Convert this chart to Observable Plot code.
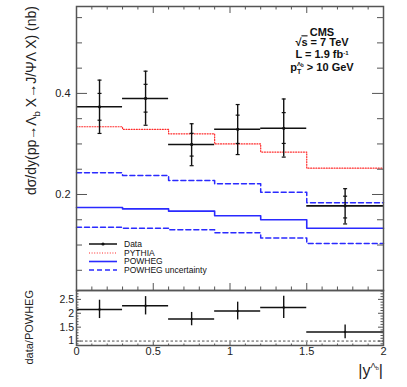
<!DOCTYPE html>
<html><head><meta charset="utf-8">
<script src="https://cdn.jsdelivr.net/npm/d3@7"></script>
<script src="https://cdn.jsdelivr.net/npm/@observablehq/plot@0.6"></script>
<style>
body{margin:0;background:#fff;}
#chart{position:relative;width:407px;height:387px;font-family:"Liberation Sans",Arial,sans-serif;}
#chart svg{position:absolute;left:0;top:0;}
</style></head><body><div id="chart"></div>
<script>
// ---- data ----
const binEdges   = [0, 0.3, 0.6, 0.9, 1.2, 1.5, 2.0];
const binCenters = [0.15, 0.45, 0.75, 1.05, 1.35, 1.75];
const dataValue  = [0.3735, 0.390, 0.299, 0.329, 0.331, 0.1775];
const dataTotHi  = [0.4263, 0.444, 0.340, 0.378, 0.389, 0.2115];
const dataTotLo  = [0.3208, 0.337, 0.257, 0.279, 0.274, 0.1417];
const dataStatHi = [0.400, 0.418, 0.321, 0.357, 0.362, 0.1966];
const dataStatLo = [0.347, 0.363, 0.276, 0.301, 0.301, 0.1536];
const pythia     = [0.334, 0.329, 0.320, 0.300, 0.284, 0.252];
const powheg     = [0.1742, 0.1715, 0.167, 0.158, 0.150, 0.1333];
const powhegUp   = [0.2428, 0.2376, 0.2277, 0.221, 0.2046, 0.1834];
const powhegDown = [0.1353, 0.1333, 0.130, 0.1243, 0.1141, 0.103];
const ratio      = [2.14, 2.27, 1.79, 2.08, 2.21, 1.33];
const ratioErr   = [0.33, 0.33, 0.24, 0.32, 0.40, 0.25];

const xTickLabels = [0, 0.5, 1, 1.5, 2];
const xMajor = [0.5, 1, 1.5];
const xMinor = [0.1,0.2,0.3,0.4,0.6,0.7,0.8,0.9,1.1,1.2,1.3,1.4,1.6,1.7,1.8,1.9];
const yTopLabels = [0.2, 0.4];
const yTopMinor = [0.05,0.1,0.15,0.25,0.3,0.35,0.45,0.5,0.55];
const yBotLabels = [1, 1.5, 2, 2.5];
const yBotMinor = [0.9,1.1,1.2,1.3,1.4,1.6,1.7,1.8,1.9,2.1,2.2,2.3,2.4,2.6,2.7,2.8];

const legendItems = ["Data", "PYTHIA", "POWHEG", "POWHEG uncertainty"];

// ---- derived tables ----
const rows = binCenters.map((c, i) => ({
  x: c, x1: binEdges[i], x2: binEdges[i + 1], y: dataValue[i],
  th: dataTotHi[i], tl: dataTotLo[i], sh: dataStatHi[i], sl: dataStatLo[i],
  r: ratio[i], rh: ratio[i] + ratioErr[i], rl: ratio[i] - ratioErr[i]
}));
const caps = rows.flatMap(d => [d.th, d.tl, d.sh, d.sl].map(v => ({x: d.x, y: v})));
const steps = vals => binEdges.map((e, i) => ({x: e, y: vals[Math.min(i, vals.length - 1)]}));

const capSymbol = {draw(ctx, size) { const w = Math.sqrt(size / Math.PI); ctx.moveTo(-w, 0); ctx.lineTo(w, 0); }};

const W = 407, H = 387, ML = 76, MR = 24;
const IW = W - ML - MR;
const TOP_MT = 6, TOP_MB = 97, TOP_IH = H - TOP_MT - TOP_MB;
const BOT_MT = 290, BOT_MB = 42, BOT_IH = H - BOT_MT - BOT_MB;
const frameC = "#555", ink = "#111";
const font = '"Liberation Sans", Arial, sans-serif';

const blue = "#2a2aff", red = "#ff2a2a";
const redDash = "1,1.6";

const topPlot = Plot.plot({
  width: W, height: H,
  marginLeft: ML, marginRight: MR, marginTop: TOP_MT, marginBottom: TOP_MB,
  x: {domain: [0, 2], axis: null},
  y: {domain: [0.01, 0.572], axis: null},
  style: {fontFamily: font, background: "transparent"},
  marks: [
    Plot.line(steps(pythia), {x: "x", y: "y", curve: "step-after", stroke: red, strokeWidth: 1.2, strokeDasharray: redDash}),
    Plot.line(steps(powhegUp), {x: "x", y: "y", curve: "step-after", stroke: blue, strokeWidth: 1.5, strokeDasharray: "5,3"}),
    Plot.line(steps(powhegDown), {x: "x", y: "y", curve: "step-after", stroke: blue, strokeWidth: 1.5, strokeDasharray: "5,3"}),
    Plot.line(steps(powheg), {x: "x", y: "y", curve: "step-after", stroke: blue, strokeWidth: 1.6}),
    Plot.ruleY(rows, {y: "y", x1: "x1", x2: "x2", stroke: ink, strokeWidth: 1.6}),
    Plot.ruleX(rows, {x: "x", y1: "tl", y2: "th", stroke: ink, strokeWidth: 1.4}),
    Plot.dot(caps, {x: "x", y: "y", r: 2, symbol: capSymbol, stroke: ink, strokeWidth: 1.2}),
    Plot.dot(rows, {x: "x", y: "y", r: 1.6, fill: ink}),
    // ticks
    Plot.tickY(yTopMinor, {y: d => d, insetRight: IW - 6, stroke: frameC}),
    Plot.tickY(yTopLabels, {y: d => d, insetRight: IW - 11, stroke: frameC}),
    Plot.tickY(yTopMinor, {y: d => d, insetLeft: IW - 6, stroke: frameC}),
    Plot.tickY(yTopLabels, {y: d => d, insetLeft: IW - 11, stroke: frameC}),
    Plot.tickX(xMinor, {x: d => d, insetBottom: TOP_IH - 3.5, stroke: frameC}),
    Plot.tickX(xMajor, {x: d => d, insetBottom: TOP_IH - 7, stroke: frameC}),
    Plot.tickX(xMinor, {x: d => d, insetTop: TOP_IH - 3.5, stroke: frameC}),
    Plot.tickX(xMajor, {x: d => d, insetTop: TOP_IH - 7, stroke: frameC}),
    Plot.text(yTopLabels, {y: d => d, text: d => d.toFixed(1), frameAnchor: "left", textAnchor: "end", dx: -6, fontSize: 11, fill: "#222"}),
    Plot.frame({stroke: frameC, strokeWidth: 1.5})
  ]
});

const bottomPlot = Plot.plot({
  width: W, height: H,
  marginLeft: ML, marginRight: MR, marginTop: BOT_MT, marginBottom: BOT_MB,
  x: {domain: [0, 2], axis: null},
  y: {domain: [0.84, 2.82], axis: null},
  style: {fontFamily: font, background: "transparent"},
  marks: [
    Plot.ruleY([1], {stroke: "#222", strokeWidth: 0.8, strokeDasharray: "2.5,2"}),
    Plot.ruleY(rows, {y: "r", x1: "x1", x2: "x2", stroke: ink, strokeWidth: 1.5}),
    Plot.ruleX(rows, {x: "x", y1: "rl", y2: "rh", stroke: ink, strokeWidth: 1.4}),
    Plot.dot(rows, {x: "x", y: "r", r: 1.2, fill: ink}),
    Plot.tickY(yBotMinor, {y: d => d, insetRight: IW - 2.5, stroke: frameC}),
    Plot.tickY(yBotLabels, {y: d => d, insetRight: IW - 5, stroke: frameC}),
    Plot.tickY(yBotMinor, {y: d => d, insetLeft: IW - 2.5, stroke: frameC}),
    Plot.tickY(yBotLabels, {y: d => d, insetLeft: IW - 5, stroke: frameC}),
    Plot.tickX(xMinor, {x: d => d, insetTop: BOT_IH - 1.5, stroke: frameC}),
    Plot.tickX(xMajor, {x: d => d, insetTop: BOT_IH - 3, stroke: frameC}),
    Plot.text(yBotLabels, {y: d => d, text: d => String(d), frameAnchor: "left", textAnchor: "end", dx: -2.5, fontSize: 10.5, fill: "#222"}),
    Plot.text(xTickLabels, {x: d => d, text: d => String(d), frameAnchor: "bottom", lineAnchor: "top", dy: 2, fontSize: 11, fill: "#222"}),
    Plot.frame({stroke: frameC, strokeWidth: 1.5})
  ]
});

const chart = document.getElementById("chart");
chart.appendChild(topPlot);
chart.appendChild(bottomPlot);

// ---- titles, annotations and legend ----
const s = d3.select(topPlot);
const t1 = s.append("text").attr("transform", "translate(36,6) rotate(-90)")
  .attr("text-anchor", "end").attr("font-size", 14).attr("fill", "#222").attr("font-family", font);
t1.append("tspan").text("dσ/dy(pp→Λ");
t1.append("tspan").attr("dy", 4).attr("font-size", 9.5).text("b");
t1.append("tspan").attr("dy", -4).text(" X→J/ΨΛ X) (nb)");

const sb = d3.select(bottomPlot);
sb.append("text").attr("transform", "translate(33,290) rotate(-90)")
  .attr("text-anchor", "end").attr("font-size", 11).attr("fill", "#222").attr("font-family", font)
  .text("data/POWHEG");

const xt = sb.append("text").attr("x", 383).attr("y", 376).attr("text-anchor", "end")
  .attr("font-size", 16).attr("fill", "#222").attr("font-family", font);
xt.append("tspan").text("|y");
xt.append("tspan").attr("dy", -8).attr("font-size", 8).text("Λ");
xt.append("tspan").attr("dy", 2).attr("font-size", 5.5).text("b");
xt.append("tspan").attr("dy", 6).text("|");

// CMS block
const cms = s.append("g").attr("font-family", font).attr("font-weight", "bold").attr("fill", "#111")
  .attr("text-anchor", "middle").attr("font-size", 11);
cms.append("text").attr("x", 322).attr("y", 35.5).text("CMS");
const l2 = cms.append("text").attr("x", 322).attr("y", 46.3);
l2.append("tspan").text("√");
l2.append("tspan").attr("text-decoration", "overline").text("s");
l2.append("tspan").text(" = 7 TeV");
const l3 = cms.append("text").attr("x", 322).attr("y", 57.5);
l3.append("tspan").text("L = 1.9 fb");
l3.append("tspan").attr("dy", -3).attr("font-size", 6).text("-1");
const l4 = cms.append("text").attr("x", 322).attr("y", 71);
l4.append("tspan").text("p");
l4.append("tspan").attr("dy", 3).attr("font-size", 7).text("T");
l4.append("tspan").attr("dy", -8.5).attr("dx", -4.3).attr("font-size", 6).text("Λ");
l4.append("tspan").attr("dy", 1.5).attr("font-size", 4.5).text("b");
l4.append("tspan").attr("dy", 4).text(" > 10 GeV");

// legend
const lg = s.append("g").attr("font-family", font).attr("font-size", 8.5).attr("fill", "#111")
  .attr("text-anchor", "start");
const rowsY = [244, 253, 261.5, 270];
const styles = [
  {stroke: ink, w: 1.5, dash: null},
  {stroke: red, w: 1.2, dash: redDash},
  {stroke: blue, w: 1.6, dash: null},
  {stroke: blue, w: 1.5, dash: "5,3"}
];
legendItems.forEach((name, i) => {
  const y = rowsY[i];
  const st = styles[i];
  lg.append("line").attr("x1", 89).attr("x2", 117).attr("y1", y).attr("y2", y)
    .attr("stroke", st.stroke).attr("stroke-width", st.w).attr("stroke-dasharray", st.dash);
  if (i === 0) lg.append("circle").attr("cx", 103).attr("cy", y).attr("r", 1.6).attr("fill", ink);
  lg.append("text").attr("x", 124).attr("y", y).attr("dy", "0.35em").attr("text-anchor", "start").text(name);
});
</script></body></html>
